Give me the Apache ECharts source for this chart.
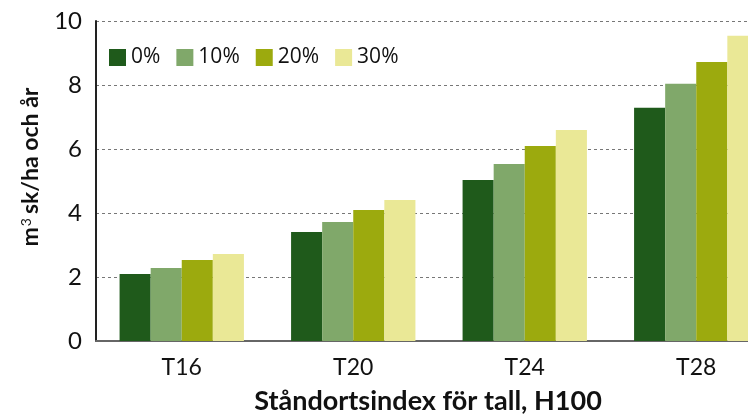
<!DOCTYPE html>
<html><head><meta charset="utf-8">
<script src="https://cdn.jsdelivr.net/npm/echarts@6/dist/echarts.min.js"></script>
<style>html,body{margin:0;padding:0;background:#fff}#c{width:748px;height:419px}</style>
</head><body><div id="c"></div>
<script>
var categories = ['T16', 'T20', 'T24', 'T28'];
var seriesNames = ['0%', '10%', '20%', '30%'];
var v0 = [2.09, 3.41, 5.03, 7.29];
var v10 = [2.28, 3.72, 5.53, 8.04];
var v20 = [2.53, 4.09, 6.09, 8.72];
var v30 = [2.72, 4.41, 6.59, 9.54];
var yTicks = [0, 2, 4, 6, 8, 10];

var colors = ['#1f5a1b', '#80a86a', '#9caa0e', '#eae896'];
var values = [v0, v10, v20, v30];
var font = 'Lato, "DejaVu Sans", sans-serif';

var chart = echarts.init(document.getElementById('c'));
chart.setOption({
  animation: false,
  textStyle: { fontFamily: font },
  grid: { left: 96, top: 21, width: 686, height: 320, containLabel: false, outerBoundsMode: 'none' },
  legend: {
    data: seriesNames,
    left: 104, top: 42,
    itemWidth: 17, itemHeight: 17, itemGap: 16,
    icon: 'rect',
    textStyle: { fontSize: 21, color: '#111', fontFamily: '"Open Sans", sans-serif', padding: [0, 0, 0, 0] }
  },
  xAxis: {
    type: 'category',
    data: categories,
    axisLine: { lineStyle: { color: '#666', width: 2 } },
    axisTick: { show: false },
    axisLabel: { fontSize: 23, color: '#111', margin: 15 },
    name: 'Ståndortsindex för tall, H100',
    nameLocation: 'middle',
    nameGap: 47,
    nameTextStyle: { fontSize: 27, fontWeight: 'bold', color: '#111', padding: [0, 22, 0, 0] }
  },
  yAxis: {
    type: 'value',
    min: 0, max: 10, interval: 2,
    axisLine: { show: true, lineStyle: { color: '#222', width: 2 } },
    axisTick: { show: false },
    axisLabel: { fontSize: 24, color: '#111', margin: 14,
      formatter: function (v) { return yTicks.indexOf(v) >= 0 ? String(v) : ''; } },
    splitLine: { lineStyle: { color: '#777', type: [3, 3], width: 1 } },
    name: '{b|m}{s|3}{b|sk/ha och år}',
    nameLocation: 'middle',
    nameGap: 54,
    nameRotate: 90,
    nameTextStyle: {
      padding: [0, 0, 0, 28],
      rich: {
        b: { fontSize: 23, fontWeight: 'bold', color: '#111', fontFamily: font },
        s: { fontSize: 14, color: '#111', verticalAlign: 'top', fontFamily: font, padding: [0, 4, 0, 1] }
      }
    }
  },
  series: seriesNames.map(function (n, i) {
    return {
      name: n, type: 'bar', data: values[i],
      barGap: '0%', barCategoryGap: '27.5%',
      itemStyle: { color: colors[i] }
    };
  })
});
</script></body></html>
